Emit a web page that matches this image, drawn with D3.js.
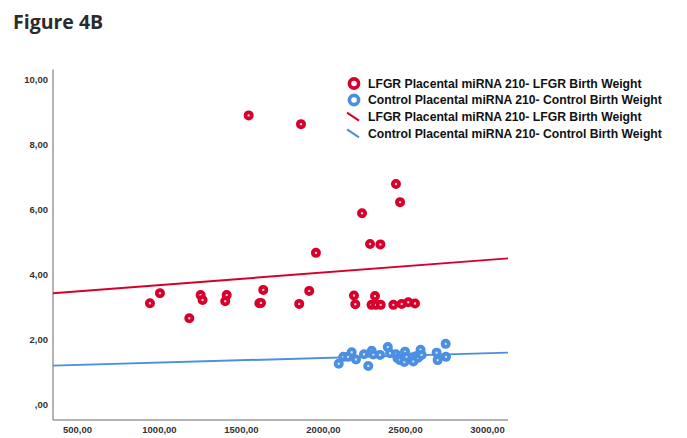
<!DOCTYPE html>
<html><head><meta charset="utf-8">
<script src="https://cdn.jsdelivr.net/npm/d3@7"></script>
<style>body{margin:0;background:#fff;}svg{display:block;}</style>
</head><body>
<svg id="c" width="687" height="438"></svg>
<script>
const title = "Figure 4B";
const xTicks = [500, 1000, 1500, 2000, 2500, 3000];
const yTicks = [0, 2, 4, 6, 8, 10];
const legendLabels = [
  "LFGR Placental miRNA 210- LFGR Birth Weight",
  "Control Placental miRNA 210- Control Birth Weight",
  "LFGR Placental miRNA 210- LFGR Birth Weight",
  "Control Placental miRNA 210- Control Birth Weight"
];
const lfgrBW = [945,1006,1185,1254,1266,1404,1413,1547,1612,1622,1636,1855,1866,1916,1957,2189,2197,2238,2287,2350,2296,2317,2323,2352,2429,2445,2470,2480,2520,2561];
const lfgrMiR = [3.11,3.42,2.65,3.36,3.21,3.17,3.36,8.89,3.11,3.12,3.52,3.09,8.62,3.49,4.66,3.35,3.08,5.88,4.93,4.92,3.06,3.33,3.06,3.06,3.06,6.78,6.22,3.09,3.14,3.10];
const ctrlBW = [2096,2124,2153,2175,2201,2250,2276,2297,2307,2348,2395,2409,2445,2454,2470,2500,2496,2510,2546,2551,2571,2580,2595,2601,2693,2699,2748,2750];
const ctrlMiR = [1.25,1.46,1.46,1.60,1.38,1.54,1.18,1.65,1.53,1.52,1.76,1.57,1.54,1.42,1.36,1.62,1.30,1.46,1.45,1.32,1.49,1.43,1.68,1.52,1.59,1.36,1.86,1.46];
const fitBW = [354, 3128];
const lfgrFit = [3.42, 4.49];
const ctrlFit = [1.19, 1.59];

const red = "#d6002b", blue = "#4a8fe0";
const svg = d3.select("#c");
const x = d3.scaleLinear().domain([354, 3128]).range([53, 508]);
const y = d3.scaleLinear().domain([0, 10]).range([404.3, 79.3]);

svg.append("text").attr("x", 13).attr("y", 29).text(title)
  .attr("font-family", "Open Sans, sans-serif").attr("font-weight", "bold")
  .attr("font-size", 19.5).attr("fill", "#2b2b2b");

// axes
const gx = svg.append("g").attr("transform", "translate(0,420)")
  .call(d3.axisBottom(x).tickValues(xTicks).tickSize(0).tickPadding(6)
    .tickFormat(d => d3.format(".2f")(d).replace(".", ",")));
const gy = svg.append("g").attr("transform", "translate(53,0)")
  .call(d3.axisLeft(y).tickValues(yTicks).tickSize(0).tickPadding(5)
    .tickFormat(d => d === 0 ? ",00" : d3.format(".2f")(d).replace(".", ",")));
gy.select(".domain").attr("d", `M0,${y(10.3)}V420`);
gx.select(".domain").attr("d", `M53,0H508`);
[gx, gy].forEach(g => {
  g.select(".domain").attr("stroke", "#9a9a9a").attr("stroke-width", 1.5);
  g.selectAll("text").attr("font-family", "Liberation Sans, Arial, sans-serif")
    .attr("font-weight", "bold").attr("font-size", 9.5).attr("fill", "#333");
});

// fit lines
const line = d3.line().x(d => x(d[0])).y(d => y(d[1]));
svg.append("path").attr("d", line(d3.zip(fitBW, lfgrFit))).attr("stroke", red).attr("stroke-width", 2).attr("fill", "none");
svg.append("path").attr("d", line(d3.zip(fitBW, ctrlFit))).attr("stroke", blue).attr("stroke-width", 2).attr("fill", "none");

// points
function pts(xs, ys, col, fill) {
  svg.append("g").selectAll("circle").data(d3.zip(xs, ys)).join("circle")
    .attr("cx", d => x(d[0])).attr("cy", d => y(d[1])).attr("r", 3.1)
    .attr("fill", fill).attr("stroke", col).attr("stroke-width", 3.8);
}
pts(lfgrBW, lfgrMiR, red, "#f0c9d2");
pts(ctrlBW, ctrlMiR, blue, "#cfe1f7");

// legend
const lg = svg.append("g");
const rowsY = [83.5, 100, 116.7, 133.3];
const cols = [red, blue, red, blue];
legendLabels.forEach((t, i) => {
  if (i < 2) {
    lg.append("circle").attr("cx", 354).attr("cy", rowsY[i]).attr("r", 4.6)
      .attr("fill", "#fff").attr("stroke", cols[i]).attr("stroke-width", 3.6);
  } else {
    lg.append("line").attr("x1", 347).attr("y1", rowsY[i] - 4).attr("x2", 359).attr("y2", rowsY[i] + 4)
      .attr("stroke", cols[i]).attr("stroke-width", 2);
  }
  lg.append("text").attr("x", 368).attr("y", rowsY[i]).attr("dy", "0.35em")
    .text(t).attr("font-family", "Liberation Sans, Arial, sans-serif").attr("font-weight", "bold")
    .attr("font-size", 12.2).attr("fill", "#111");
});
</script>
</body></html>
